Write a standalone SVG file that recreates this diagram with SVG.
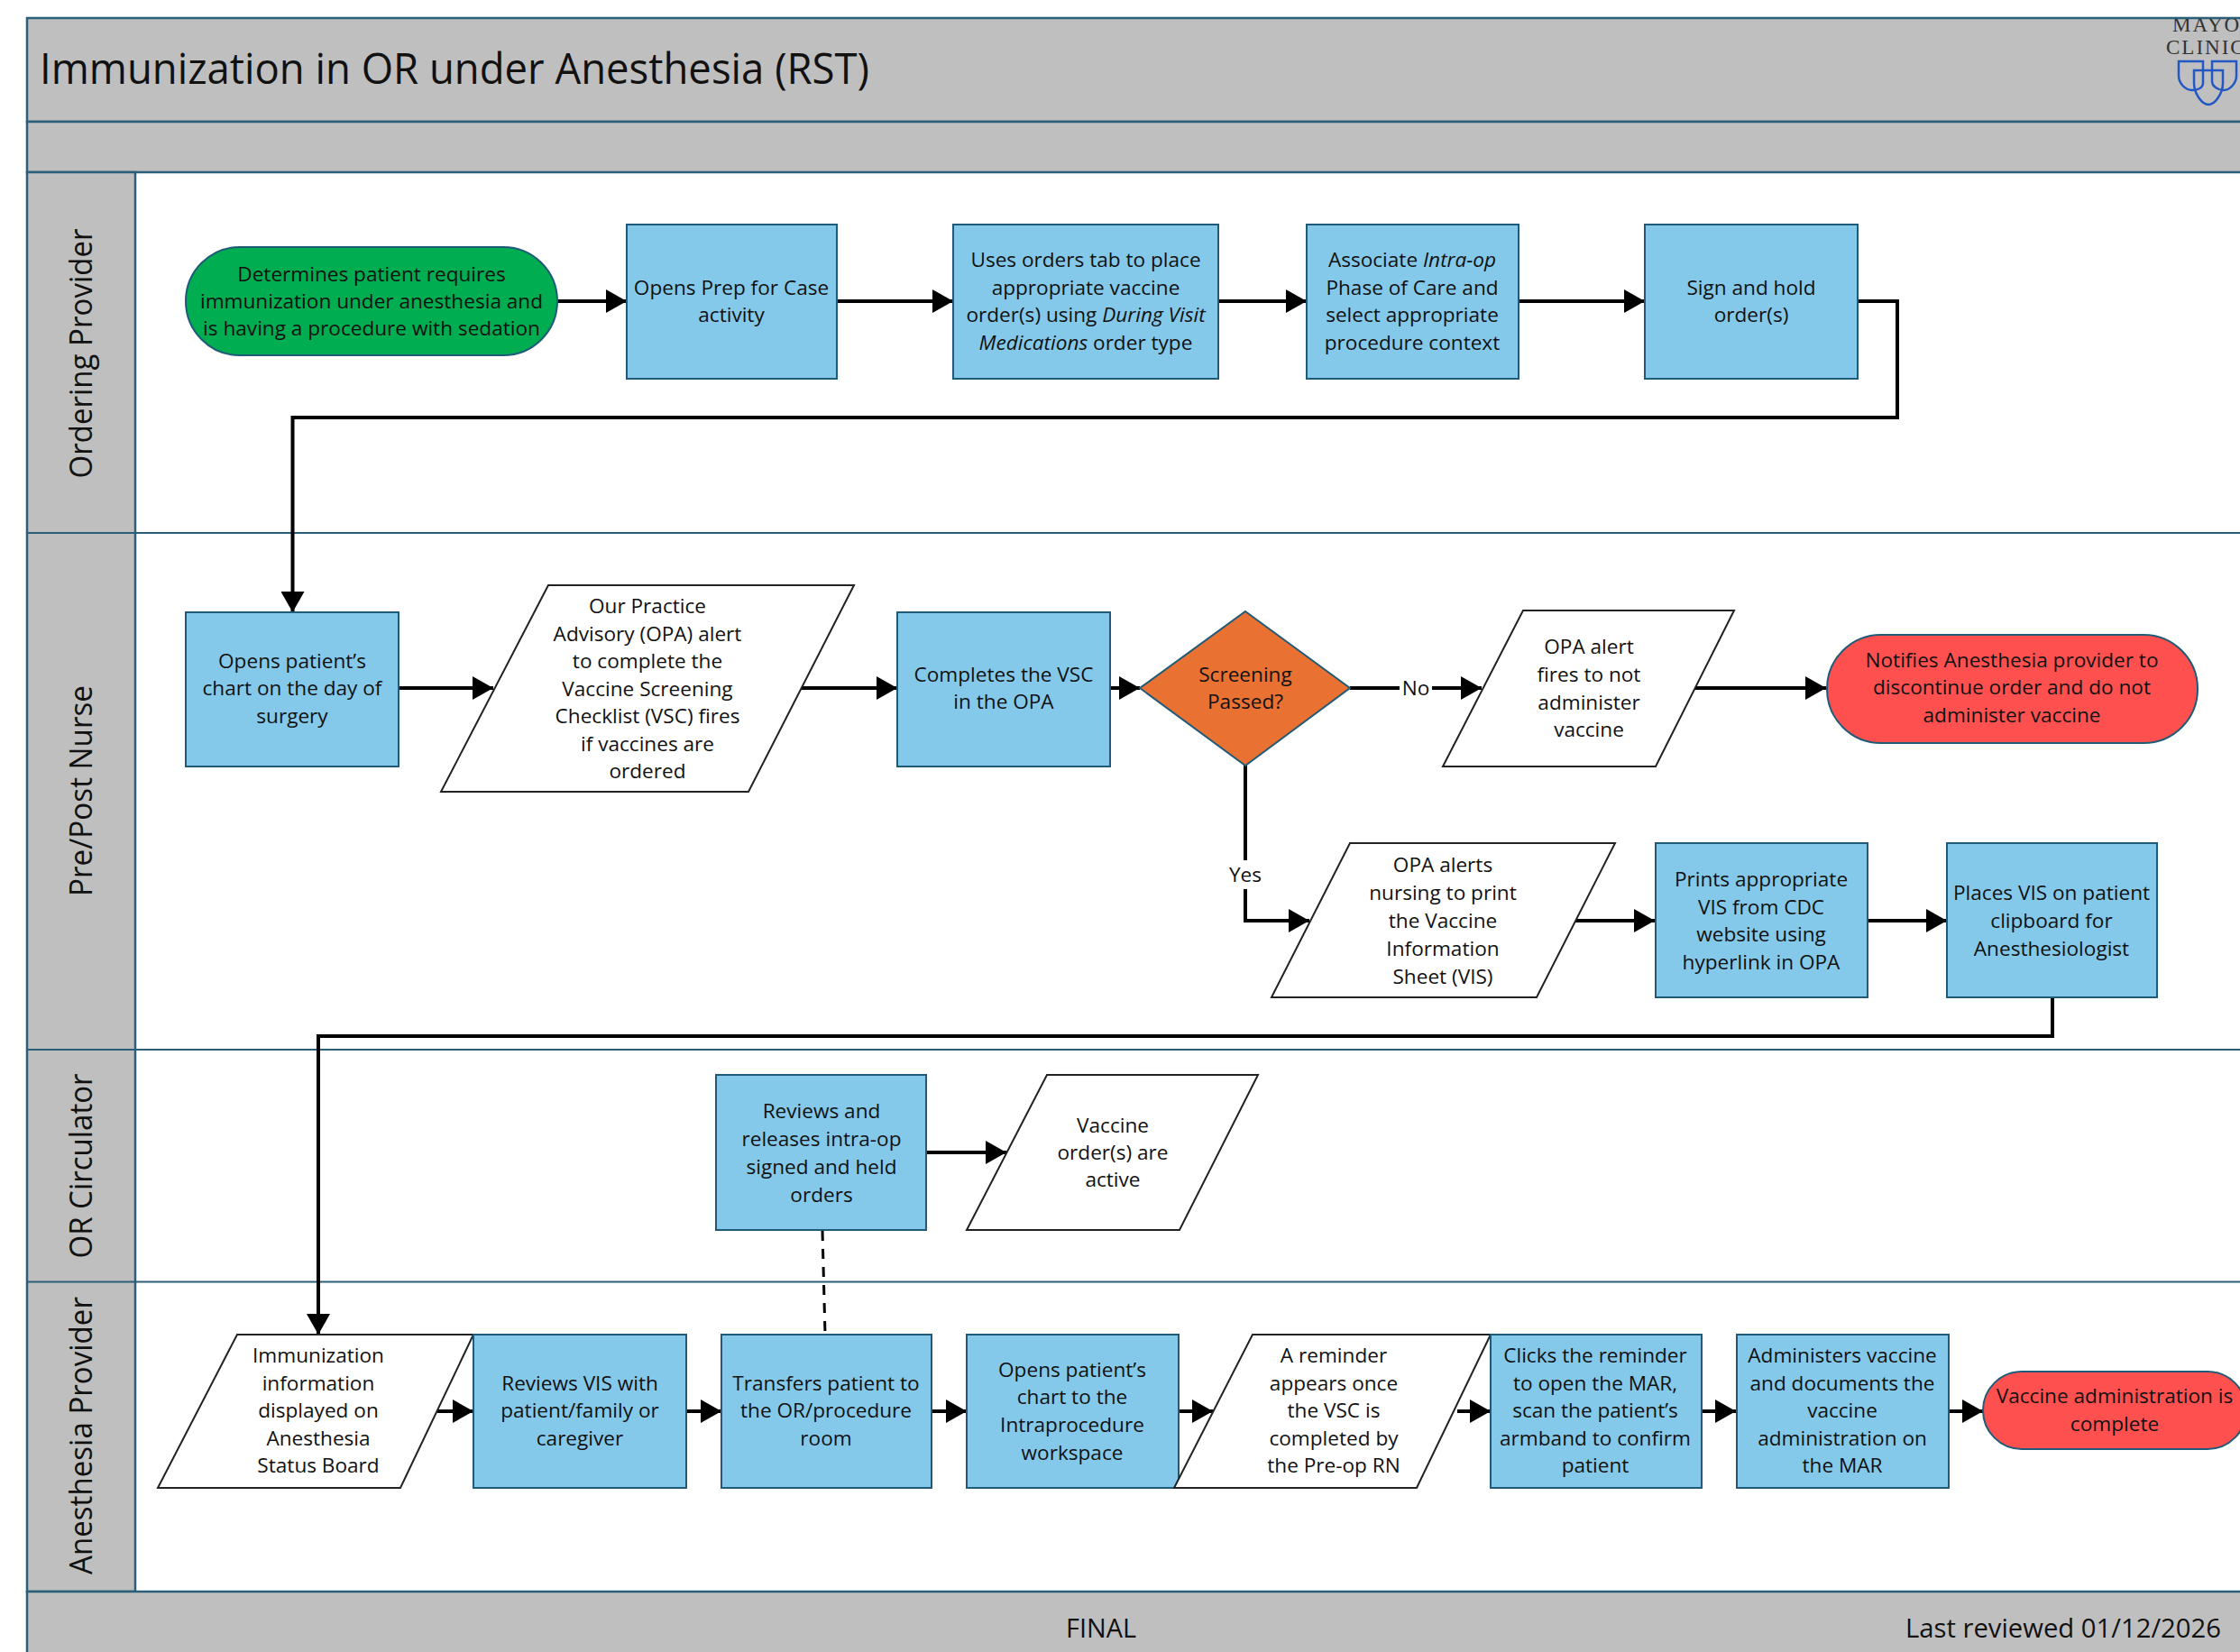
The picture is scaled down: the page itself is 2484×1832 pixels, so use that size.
<svg xmlns="http://www.w3.org/2000/svg" width="2484" height="1832" viewBox="0 0 2484 1832">
<defs>
<style>
text{font-family:"Open Sans","Liberation Sans",sans-serif;fill:#111;font-size:22.600px;text-anchor:middle}
.it{font-style:italic}
.band{fill:#bfbfbf;stroke:#2b5f78;stroke-width:2.5}
.line{stroke:#2b5f78;stroke-width:2;fill:none}
.box{fill:#85c9ea;stroke:#1f5a78;stroke-width:2}
.para{fill:#fff;stroke:#222;stroke-width:2}
.green{fill:#00ad50;stroke:#1f5a78;stroke-width:2}
.red{fill:#ff5050;stroke:#1f5a78;stroke-width:2}
.orange{fill:#e97132;stroke:#1f5a78;stroke-width:2}
.c{fill:none;stroke:#000;stroke-width:4;marker-end:url(#arrow)}
.d{fill:none;stroke:#000;stroke-width:3;stroke-dasharray:11 9}
.lane{font-size:34px}
.shield{fill:none;stroke:#2257c4;stroke-width:2.5}
.logo{font-family:"Liberation Serif",serif;font-size:23px;letter-spacing:2px;fill:#333;text-anchor:start}
</style>
<marker id="arrow" markerUnits="userSpaceOnUse" markerWidth="24" markerHeight="26" refX="23" refY="13" orient="auto"><path d="M0 0L23 13L0 26z" fill="#000"/></marker>
<clipPath id="logoclip"><rect x="2380" y="21" width="104" height="110"/></clipPath>
</defs>
<rect width="2484" height="1832" fill="#fff"/>
<g id="frame">
<rect class="band" x="30" y="20" width="2470" height="115"/>
<rect class="band" x="30" y="135" width="2470" height="56"/>
<rect class="band" x="30" y="191" width="120" height="1574"/>
<rect class="band" x="30" y="1765" width="2470" height="80"/>
<path class="line" d="M30 591H2484M30 1164H2484M30 1421.500H2484"/>
<text x="44" y="93" style="font-size:47px;text-anchor:start" textLength="920" lengthAdjust="spacingAndGlyphs">Immunization in OR under Anesthesia (RST)</text>
<text x="1221" y="1816" style="font-size:29px" textLength="78" lengthAdjust="spacingAndGlyphs">FINAL</text>
<text x="2463" y="1816" style="font-size:29px;text-anchor:end" textLength="350" lengthAdjust="spacingAndGlyphs">Last reviewed 01/12/2026</text>
</g>
<g id="logo" clip-path="url(#logoclip)">
<text class="logo" x="2409" y="34.500">MAYO</text>
<text class="logo" x="2402" y="60">CLINIC</text>
<path class="shield" d="M2416 68H2443V92C2443 98 2436 100 2431 100C2423 100 2416 92 2416 84Z"/>
<path class="shield" d="M2453 68H2480V84C2480 92 2473 100 2466 100C2460 100 2453 96 2453 90Z"/>
<path class="shield" d="M2433 78H2465V92C2465 104 2456 116 2449 116C2442 116 2433 104 2433 92Z"/>
</g>
<g id="lane-labels">
<text class="lane" transform="translate(102 392) rotate(-90)" textLength="277" lengthAdjust="spacingAndGlyphs">Ordering Provider</text>
<text class="lane" transform="translate(102 877) rotate(-90)" textLength="234" lengthAdjust="spacingAndGlyphs">Pre/Post Nurse</text>
<text class="lane" transform="translate(102 1293) rotate(-90)" textLength="205" lengthAdjust="spacingAndGlyphs">OR Circulator</text>
<text class="lane" transform="translate(102 1592) rotate(-90)" textLength="308" lengthAdjust="spacingAndGlyphs">Anesthesia Provider</text>
</g>
<g id="connectors">
<path class="c" d="M618 334H695"/>
<path class="c" d="M928 334H1057"/>
<path class="c" d="M1351 334H1449"/>
<path class="c" d="M1684 334H1824"/>
<path class="c" d="M2060 334H2104V463H324.500V679"/>
<path class="c" d="M442 763H547"/>
<path class="c" d="M887 763H995"/>
<path class="c" d="M1231 763H1264"/>
<path class="c" d="M1497 763H1643"/>
<path class="c" d="M1879 763H2025"/>
<path class="c" d="M1381 849V1021H1452"/>
<path class="c" d="M1745 1021H1835"/>
<path class="c" d="M2071 1021H2159"/>
<path class="c" d="M2276 1106V1149H353V1480"/>
<path class="c" d="M1027 1278H1116"/>
<path class="d" d="M912 1365L915 1480"/>
<path class="c" d="M485 1565H525"/>
<path class="c" d="M761 1565H800"/>
<path class="c" d="M1033 1565H1072"/>
<path class="c" d="M1307 1565H1345"/>
<path class="c" d="M1616 1565H1653"/>
<path class="c" d="M1887 1565H1925"/>
<path class="c" d="M2161 1565H2199"/>
<rect x="1552" y="748" width="36" height="30" fill="#fff"/>
<text x="1570" y="771">No</text>
<rect x="1358" y="954" width="46" height="32" fill="#fff"/>
<text x="1381" y="978">Yes</text>
</g>
<g id="n1"><rect class="green" x="206" y="274" width="412" height="120" rx="60"/><text x="412" y="312">Determines patient requires<tspan x="412" dy="30">immunization under anesthesia and</tspan><tspan x="412" dy="30">is having a procedure with sedation</tspan></text></g>
<g id="n2"><rect class="box" x="695" y="249" width="233" height="171"/><text x="811" y="327">Opens Prep for Case<tspan x="811" dy="30">activity</tspan></text></g>
<g id="n3"><rect class="box" x="1057" y="249" width="294" height="171"/><text x="1204" y="296">Uses orders tab to place<tspan x="1204" dy="31">appropriate vaccine</tspan><tspan x="1204" dy="30">order(s) using <tspan class="it">During Visit</tspan></tspan><tspan x="1204" dy="31"><tspan class="it">Medications</tspan> order type</tspan></text></g>
<g id="n4"><rect class="box" x="1449" y="249" width="235" height="171"/><text x="1566" y="296">Associate <tspan class="it">Intra-op</tspan><tspan x="1566" dy="31">Phase of Care and</tspan><tspan x="1566" dy="30">select appropriate</tspan><tspan x="1566" dy="31">procedure context</tspan></text></g>
<g id="n5"><rect class="box" x="1824" y="249" width="236" height="171"/><text x="1942" y="327">Sign and hold<tspan x="1942" dy="30">order(s)</tspan></text></g>
<g id="n6"><rect class="box" x="206" y="679" width="236" height="171"/><text x="324" y="741">Opens patient’s<tspan x="324" dy="30">chart on the day of</tspan><tspan x="324" dy="31">surgery</tspan></text></g>
<g id="n7"><polygon class="para" points="608,649 947,649 830,878 489,878"/><text x="718" y="680">Our Practice<tspan x="718" dy="31">Advisory (OPA) alert</tspan><tspan x="718" dy="30">to complete the</tspan><tspan x="718" dy="31">Vaccine Screening</tspan><tspan x="718" dy="30">Checklist (VSC) fires</tspan><tspan x="718" dy="31">if vaccines are</tspan><tspan x="718" dy="30">ordered</tspan></text></g>
<g id="n8"><rect class="box" x="995" y="679" width="236" height="171"/><text x="1113" y="756">Completes the VSC<tspan x="1113" dy="30">in the OPA</tspan></text></g>
<g id="n9"><polygon class="orange" points="1381,678 1497,763 1381,849 1264,763"/><text x="1381" y="756">Screening<tspan x="1381" dy="30">Passed?</tspan></text></g>
<g id="n10"><polygon class="para" points="1689,677 1923,677 1836,850 1600,850"/><text x="1762" y="725">OPA alert<tspan x="1762" dy="31">fires to not</tspan><tspan x="1762" dy="31">administer</tspan><tspan x="1762" dy="30">vaccine</tspan></text></g>
<g id="n11"><rect class="red" x="2026" y="704" width="411" height="120" rx="60"/><text x="2231" y="740">Notifies Anesthesia provider to<tspan x="2231" dy="30">discontinue order and do not</tspan><tspan x="2231" dy="31">administer vaccine</tspan></text></g>
<g id="n12"><polygon class="para" points="1497,935 1791,935 1704,1106 1410,1106"/><text x="1600" y="967">OPA alerts<tspan x="1600" dy="31">nursing to print</tspan><tspan x="1600" dy="31">the Vaccine</tspan><tspan x="1600" dy="31">Information</tspan><tspan x="1600" dy="31">Sheet (VIS)</tspan></text></g>
<g id="n13"><rect class="box" x="1836" y="935" width="235" height="171"/><text x="1953" y="983">Prints appropriate<tspan x="1953" dy="31">VIS from CDC</tspan><tspan x="1953" dy="30">website using</tspan><tspan x="1953" dy="31">hyperlink in OPA</tspan></text></g>
<g id="n14"><rect class="box" x="2159" y="935" width="233" height="171"/><text x="2275" y="998">Places VIS on patient<tspan x="2275" dy="31">clipboard for</tspan><tspan x="2275" dy="31">Anesthesiologist</tspan></text></g>
<g id="n15"><rect class="box" x="794" y="1192" width="233" height="172"/><text x="911" y="1240">Reviews and<tspan x="911" dy="31">releases intra-op</tspan><tspan x="911" dy="31">signed and held</tspan><tspan x="911" dy="31">orders</tspan></text></g>
<g id="n16"><polygon class="para" points="1161,1192 1395,1192 1308,1364 1072,1364"/><text x="1234" y="1256">Vaccine<tspan x="1234" dy="30">order(s) are</tspan><tspan x="1234" dy="30">active</tspan></text></g>
<g id="n17"><polygon class="para" points="263,1480 525,1480 444,1650 175,1650"/><text x="353" y="1511">Immunization<tspan x="353" dy="31">information</tspan><tspan x="353" dy="30">displayed on</tspan><tspan x="353" dy="31">Anesthesia</tspan><tspan x="353" dy="30">Status Board</tspan></text></g>
<g id="n18"><rect class="box" x="525" y="1480" width="236" height="170"/><text x="643" y="1542">Reviews VIS with<tspan x="643" dy="30">patient/family or</tspan><tspan x="643" dy="31">caregiver</tspan></text></g>
<g id="n19"><rect class="box" x="800" y="1480" width="233" height="170"/><text x="916" y="1542">Transfers patient to<tspan x="916" dy="30">the OR/procedure</tspan><tspan x="916" dy="31">room</tspan></text></g>
<g id="n20"><rect class="box" x="1072" y="1480" width="235" height="170"/><text x="1189" y="1527">Opens patient’s<tspan x="1189" dy="30">chart to the</tspan><tspan x="1189" dy="31">Intraprocedure</tspan><tspan x="1189" dy="31">workspace</tspan></text></g>
<g id="n21"><polygon class="para" points="1389,1480 1653,1480 1571,1650 1302,1650"/><text x="1479" y="1511">A reminder<tspan x="1479" dy="31">appears once</tspan><tspan x="1479" dy="30">the VSC is</tspan><tspan x="1479" dy="31">completed by</tspan><tspan x="1479" dy="30">the Pre-op RN</tspan></text></g>
<g id="n22"><rect class="box" x="1653" y="1480" width="234" height="170"/><text x="1769" y="1511">Clicks the reminder<tspan x="1769" dy="31">to open the MAR,</tspan><tspan x="1769" dy="30">scan the patient’s</tspan><tspan x="1769" dy="31">armband to confirm</tspan><tspan x="1769" dy="30">patient</tspan></text></g>
<g id="n23"><rect class="box" x="1926" y="1480" width="235" height="170"/><text x="2043" y="1511">Administers vaccine<tspan x="2043" dy="31">and documents the</tspan><tspan x="2043" dy="30">vaccine</tspan><tspan x="2043" dy="31">administration on</tspan><tspan x="2043" dy="30">the MAR</tspan></text></g>
<g id="n24"><rect class="red" x="2199" y="1521" width="292" height="86" rx="43"/><text x="2345" y="1556">Vaccine administration is<tspan x="2345" dy="31">complete</tspan></text></g>
</svg>
